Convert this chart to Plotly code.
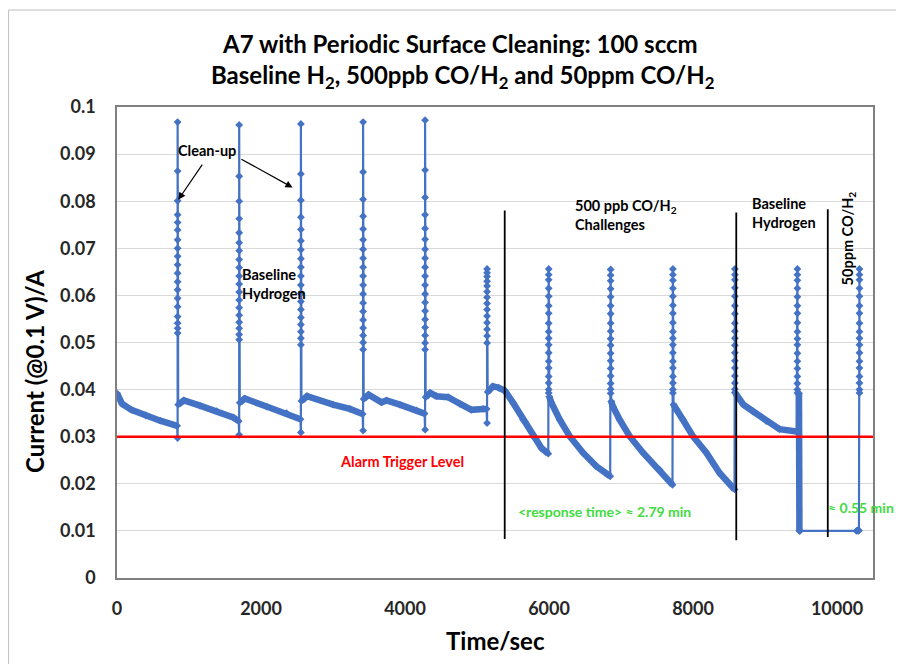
import plotly.graph_objects as go

# ---------------- data ----------------
# decay segments between clean-up spikes (time in s, current in A)
SEG_T = [
    [0, 30, 70, 200, 400, 600, 835],
    [850, 930, 1152, 1384, 1614, 1690],
    [1705, 1775, 2078, 2355, 2548],
    [2562, 2640, 3002, 3234, 3412],
    [3426, 3495, 3674, 3743, 3928, 4159, 4272],
    [4287, 4350, 4437, 4599, 4761, 4923, 5084, 5133],
    [5148, 5223, 5300, 5385, 5501, 5640, 5779, 5894, 5990],
    [6004, 6033, 6149, 6287, 6472, 6658, 6850],
    [6864, 6888, 6981, 7120, 7305, 7536, 7715],
    [7729, 7768, 7860, 7999, 8185, 8369, 8577],
    [8590, 8625, 8700, 8832, 9017, 9202, 9440],
    [9472, 9478],
]
SEG_V = [
    [0.0392, 0.0380, 0.0370, 0.0357, 0.0345, 0.0334, 0.0323],
    [0.0368, 0.0377, 0.0366, 0.0354, 0.0341, 0.0333],
    [0.0372, 0.0381, 0.0364, 0.0350, 0.0337],
    [0.0376, 0.0386, 0.0368, 0.0359, 0.0348],
    [0.0380, 0.0389, 0.0373, 0.0377, 0.0368, 0.0356, 0.0349],
    [0.0384, 0.0393, 0.0386, 0.0384, 0.0370, 0.0357, 0.0359, 0.0359],
    [0.0395, 0.0407, 0.0404, 0.0398, 0.0372, 0.0336, 0.0301, 0.0276, 0.0264],
    [0.0385, 0.0372, 0.0336, 0.0301, 0.0266, 0.0237, 0.0216],
    [0.0375, 0.0364, 0.0336, 0.0301, 0.0266, 0.0230, 0.0198],
    [0.0368, 0.0357, 0.0336, 0.0301, 0.0266, 0.0223, 0.0188],
    [0.0392, 0.0383, 0.0368, 0.0354, 0.0333, 0.0316, 0.0311],
    [0.0392, 0.0100],
]
# flat part at the 0.01 A floor before the 50 ppm challenge
FLAT_T = [9485, 10270, 10285, 10295, 10305]
FLAT_V = [0.0100, 0.0100, 0.0101, 0.0100, 0.0101]

# clean-up spikes
SPIKE_T = [842, 1697, 2554, 3418, 4279, 5140, 5996, 6856, 7721, 8582, 9450, 10312]
SPIKE_DIP = [0.0297, 0.0304, 0.0309, 0.0313, 0.0315, 0.0329,
             None, None, None, None, None, None]
SPIKE_LEVELS = [
    [0.0968, 0.0864, 0.0801, 0.0771, 0.0755, 0.0739, 0.0718, 0.0700, 0.0683, 0.0665,
     0.0647, 0.0629, 0.0612, 0.0594, 0.0576, 0.0555, 0.0541, 0.0530, 0.0520],
    [0.0962, 0.0853, 0.0800, 0.0763, 0.0733, 0.0712, 0.0695, 0.0676, 0.0659, 0.0641,
     0.0624, 0.0607, 0.0590, 0.0574, 0.0558, 0.0543, 0.0530, 0.0517, 0.0506],
    [0.0964, 0.0858, 0.0802, 0.0766, 0.0740, 0.0716, 0.0697, 0.0678, 0.0660, 0.0641,
     0.0622, 0.0604, 0.0587, 0.0570, 0.0553, 0.0538, 0.0523, 0.0509, 0.0495],
    [0.0968, 0.0862, 0.0804, 0.0768, 0.0741, 0.0718, 0.0698, 0.0679, 0.0660, 0.0641,
     0.0622, 0.0603, 0.0584, 0.0566, 0.0548, 0.0531, 0.0515, 0.0500, 0.0485],
    [0.0972, 0.0866, 0.0808, 0.0771, 0.0742, 0.0719, 0.0698, 0.0679, 0.0660, 0.0641,
     0.0622, 0.0603, 0.0585, 0.0567, 0.0549, 0.0532, 0.0515, 0.0499, 0.0485],
    [0.0656, 0.0648, 0.0640, 0.0630, 0.0620, 0.0608, 0.0596, 0.0583, 0.0570, 0.0556,
     0.0542, 0.0528, 0.0514, 0.0499],
    [0.0656, 0.0644, 0.0633, 0.0615, 0.0598, 0.0578, 0.0562, 0.0541, 0.0523, 0.0509,
     0.0495, 0.0478, 0.0460, 0.0446, 0.0428, 0.0414, 0.0400, 0.0393],
    [0.0655, 0.0643, 0.0631, 0.0614, 0.0597, 0.0578, 0.0561, 0.0541, 0.0524, 0.0508,
     0.0494, 0.0477, 0.0461, 0.0445, 0.0429, 0.0413, 0.0401, 0.0392],
    [0.0656, 0.0644, 0.0632, 0.0615, 0.0598, 0.0579, 0.0562, 0.0542, 0.0523, 0.0509,
     0.0495, 0.0478, 0.0460, 0.0446, 0.0428, 0.0414, 0.0400, 0.0393],
    [0.0656, 0.0644, 0.0633, 0.0616, 0.0598, 0.0578, 0.0561, 0.0541, 0.0524, 0.0509,
     0.0494, 0.0478, 0.0461, 0.0446, 0.0429, 0.0414, 0.0401, 0.0394],
    [0.0656, 0.0644, 0.0632, 0.0615, 0.0597, 0.0578, 0.0562, 0.0542, 0.0523, 0.0508,
     0.0495, 0.0477, 0.0460, 0.0445, 0.0428, 0.0413, 0.0400, 0.0393],
    [0.0656, 0.0644, 0.0633, 0.0615, 0.0598, 0.0578, 0.0562, 0.0541, 0.0523, 0.0509,
     0.0495, 0.0478, 0.0460, 0.0446, 0.0428, 0.0414, 0.0400, 0.0393],
]

ALARM_LEVEL = 0.03
VLINE_T = [5385, 8601, 9872]
VLINE_TOP = [0.0780, 0.0776, 0.0783]
VLINE_BOTTOM = [0.0083, 0.0080, 0.0087]

X_TICKS = [0, 2000, 4000, 6000, 8000, 10000]
X_LABELS = ["0", "2000", "4000", "6000", "8000", "10000"]
Y_TICKS = [0, 0.01, 0.02, 0.03, 0.04, 0.05, 0.06, 0.07, 0.08, 0.09, 0.1]
Y_LABELS = ["0", "0.01", "0.02", "0.03", "0.04", "0.05", "0.06", "0.07", "0.08", "0.09", "0.1"]
X_RANGE = [0, 10500]
Y_RANGE = [0, 0.1]

# ---------------- assemble series in time order ----------------
t_all, v_all = [], []
for i in range(len(SPIKE_T)):
    t_all += SEG_T[i]
    v_all += SEG_V[i]
    if i == len(SPIKE_T) - 1:
        t_all += FLAT_T
        v_all += FLAT_V
    if SPIKE_DIP[i] is not None:
        t_all.append(SPIKE_T[i])
        v_all.append(SPIKE_DIP[i])
    t_all += [SPIKE_T[i]] * len(SPIKE_LEVELS[i])
    v_all += SPIKE_LEVELS[i]

band_t, band_v = [], []
for ts, vs in zip(SEG_T, SEG_V):
    band_t += ts + [None]
    band_v += vs + [None]

BLUE = "#4472C4"
FONT = "Lato"

fig = go.Figure()
# dense-marker band of the slow decays
fig.add_trace(go.Scatter(x=band_t, y=band_v, mode="lines",
                         line=dict(color=BLUE, width=6.5),
                         hoverinfo="skip", showlegend=False))
# full current trace
fig.add_trace(go.Scatter(x=t_all, y=v_all, mode="lines+markers",
                         line=dict(color=BLUE, width=2.2),
                         marker=dict(symbol="diamond", size=6, color=BLUE),
                         name="Current", showlegend=False))
# alarm trigger level
fig.add_trace(go.Scatter(x=X_RANGE, y=[ALARM_LEVEL, ALARM_LEVEL], mode="lines",
                         line=dict(color="#FF0000", width=2.5),
                         hoverinfo="skip", showlegend=False))
# phase separators
for t, y0, y1 in zip(VLINE_T, VLINE_BOTTOM, VLINE_TOP):
    fig.add_trace(go.Scatter(x=[t, t], y=[y0, y1], mode="lines",
                             line=dict(color="#000000", width=1.8),
                             hoverinfo="skip", showlegend=False))

# page is offset by the 8px body margin; layout numbers are in figure pixels
OFF = 8
W, H = 896, 656
L, R, T, B = 109, 31, 99, 86
PW = W - L - R
PH = H - T - B


def px(xp):  # page x pixel -> paper
    return (xp - OFF - L) / PW


def py(yp):  # page y pixel -> paper
    return (H - B - (yp - OFF)) / PH


ann = []
TITLE_FONT = dict(family=FONT, size=24, color="#000000")
ann.append(dict(text="<b>A7 with Periodic Surface Cleaning: 100 sccm</b>",
                x=px(460), y=py(43), xref="paper", yref="paper",
                showarrow=False, xanchor="center", yanchor="middle", font=TITLE_FONT))
ann.append(dict(text="<b>Baseline H<sub>2</sub>, 500ppb CO/H<sub>2</sub> and 50ppm CO/H<sub>2</sub></b>",
                x=px(462), y=py(76), xref="paper", yref="paper",
                showarrow=False, xanchor="center", yanchor="middle", font=TITLE_FONT))
AX_FONT = dict(family=FONT, size=24, color="#000000")
ann.append(dict(text="<b>Current (@0.1 V)/A</b>", x=px(34), y=py(372),
                xref="paper", yref="paper", showarrow=False, textangle=-90,
                xanchor="center", yanchor="middle", font=AX_FONT))
ann.append(dict(text="<b>Time/sec</b>", x=px(496), y=py(640),
                xref="paper", yref="paper", showarrow=False,
                xanchor="center", yanchor="middle", font=AX_FONT))

small = dict(family=FONT, size=14.5, color="#000000")
ann.append(dict(text="<b>Clean-up</b>", x=1245, y=0.0907, showarrow=False,
                xanchor="center", yanchor="middle", font=small))
ann.append(dict(text="", x=851, y=0.0803, ax=1198, ay=0.0881, axref="x", ayref="y",
                showarrow=True, arrowhead=2, arrowsize=1.2, arrowwidth=1.2, arrowcolor="#000000"))
ann.append(dict(text="", x=2439, y=0.0829, ax=1707, ay=0.0891, axref="x", ayref="y",
                showarrow=True, arrowhead=2, arrowsize=1.2, arrowwidth=1.2, arrowcolor="#000000"))
ann.append(dict(text="<b>Baseline<br>Hydrogen</b>", x=1707, y=0.0624, showarrow=False,
                xanchor="left", yanchor="middle", align="left", font=small))
ann.append(dict(text="<b>500 ppb CO/H<sub>2</sub><br>Challenges</b>", x=6333, y=0.0770,
                showarrow=False, xanchor="left", yanchor="middle", align="left", font=small))
ann.append(dict(text="<b>Baseline<br>Hydrogen</b>", x=8786, y=0.0775, showarrow=False,
                xanchor="left", yanchor="middle", align="left", font=small))
ann.append(dict(text="<b>50ppm CO/H<sub>2</sub></b>", x=10160, y=0.0720, showarrow=False,
                textangle=-90, xanchor="center", yanchor="middle", font=small))
ann.append(dict(text="<b>Alarm Trigger Level</b>", x=3960, y=0.0248, showarrow=False,
                xanchor="center", yanchor="middle",
                font=dict(family=FONT, size=14.5, color="#FF0000")))
GREEN = "#3FDB3F"
ann.append(dict(text="<b>&lt;response time&gt; ≈ 2.79 min</b>", x=6773, y=0.0142,
                showarrow=False, xanchor="center", yanchor="middle",
                font=dict(family=FONT, size=14, color=GREEN)))
ann.append(dict(text="<b>≈ 0.55 min</b>", x=10336, y=0.0150, showarrow=False,
                xanchor="center", yanchor="middle",
                font=dict(family=FONT, size=14, color=GREEN)))

fig.update_layout(
    width=W, height=H,
    margin=dict(l=L, r=R, t=T, b=B, autoexpand=False),
    paper_bgcolor="#FFFFFF", plot_bgcolor="#FFFFFF",
    showlegend=False,
    annotations=ann,
    shapes=[dict(type="rect", xref="paper", yref="paper",
                 x0=px(8.6), x1=px(930), y0=py(690), y1=py(10),
                 line=dict(color="#BFBFBF", width=1), layer="below")],
)
fig.update_xaxes(range=X_RANGE, tickvals=X_TICKS, ticktext=X_LABELS,
                 showgrid=False, zeroline=False,
                 showline=True, linecolor="#808080", linewidth=1.5, mirror=True,
                 ticks="outside", ticklen=14, tickcolor="rgba(0,0,0,0)",
                 tickfont=dict(family=FONT, size=18, color="#262626", weight="bold"))
fig.update_yaxes(range=Y_RANGE, tickvals=Y_TICKS, ticktext=Y_LABELS,
                 showgrid=True, gridcolor="#D9D9D9", gridwidth=1.2, zeroline=False,
                 showline=True, linecolor="#808080", linewidth=1.5, mirror=True,
                 ticks="outside", ticklen=16, tickcolor="rgba(0,0,0,0)",
                 tickfont=dict(family=FONT, size=18, color="#262626", weight="bold"))

fig.write_html("out.html")
